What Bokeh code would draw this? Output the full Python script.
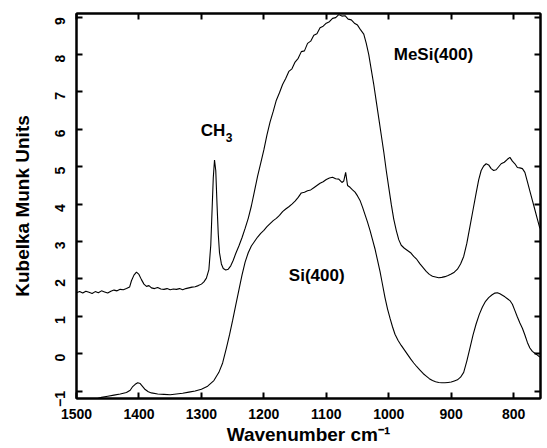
import math
from bokeh.plotting import figure
from bokeh.models import Range1d, FixedTicker, LinearAxis, Label
from bokeh.embed import file_html
from bokeh.resources import INLINE

# ---- data ----
mesi_wn = [1500, 1495, 1490, 1485, 1480, 1475, 1470, 1465, 1460, 1455, 1450, 1445, 1440, 1435, 1430,
           1425, 1420, 1415, 1412, 1408, 1404, 1400, 1396, 1392, 1388, 1384, 1380, 1375, 1370, 1365,
           1360, 1355, 1350, 1345, 1340, 1335, 1330, 1325, 1320, 1315, 1310, 1305, 1300, 1296, 1292,
           1288, 1285, 1283, 1281, 1279, 1277, 1275, 1273, 1271, 1268, 1265, 1261, 1257, 1253, 1249,
           1245, 1240, 1235, 1230, 1225, 1220, 1215, 1210, 1205, 1200, 1195, 1190, 1185, 1180, 1175,
           1170, 1165, 1160, 1155, 1150, 1145, 1140, 1135, 1130, 1125, 1120, 1115, 1110, 1105, 1100,
           1095, 1090, 1085, 1080, 1075, 1070, 1065, 1060, 1055, 1050, 1045, 1040, 1036, 1032, 1028,
           1024, 1020, 1016, 1012, 1008, 1004, 1000, 996, 992, 988, 984, 980, 975, 970, 965,
           960, 955, 950, 945, 940, 935, 930, 925, 920, 915, 910, 905, 900, 895, 890,
           885, 880, 875, 870, 865, 860, 856, 852, 848, 844, 840, 836, 832, 828, 824,
           820, 815, 810, 806, 802, 798, 794, 790, 786, 782, 778, 774, 770, 766, 762, 758]
mesi_km = [1.63, 1.66, 1.62, 1.67, 1.64, 1.61, 1.66, 1.63, 1.68, 1.65, 1.62, 1.67, 1.70, 1.68, 1.72,
           1.71, 1.74, 1.78, 1.95, 2.10, 2.18, 2.12, 1.98, 1.86, 1.80, 1.82, 1.76, 1.74, 1.77, 1.73,
           1.72, 1.74, 1.71, 1.73, 1.72, 1.74, 1.71, 1.74, 1.76, 1.78, 1.79, 1.82, 1.86, 1.92, 2.02,
           2.25, 2.90, 3.80, 4.70, 5.18, 4.90, 4.00, 3.20, 2.70, 2.40, 2.28, 2.24, 2.26, 2.35, 2.50,
           2.68, 2.88, 3.10, 3.35, 3.62, 3.95, 4.35, 4.75, 5.10, 5.45, 5.85, 6.20, 6.48, 6.78, 6.98,
           7.20, 7.36, 7.55, 7.62, 7.80, 7.90, 8.08, 8.10, 8.30, 8.36, 8.52, 8.56, 8.72, 8.76, 8.84,
           8.88, 8.97, 8.99, 9.07, 9.03, 9.04, 8.95, 8.93, 8.84, 8.79, 8.66, 8.55, 8.30, 8.00, 7.60,
           7.20, 6.75, 6.30, 5.85, 5.40, 4.90, 4.45, 4.00, 3.60, 3.30, 3.05, 2.90, 2.82, 2.76, 2.70,
           2.60, 2.52, 2.40, 2.30, 2.20, 2.12, 2.07, 2.05, 2.03, 2.04, 2.06, 2.09, 2.13, 2.18, 2.26,
           2.40, 2.60, 2.95, 3.40, 3.85, 4.30, 4.65, 4.90, 5.02, 5.08, 5.05, 4.95, 4.90, 4.92, 5.00,
           5.08, 5.12, 5.20, 5.25, 5.15, 5.08, 4.98, 4.97, 4.95, 4.85, 4.60, 4.35, 4.10, 3.85, 3.60, 3.35]

si_wn = [1470, 1460, 1450, 1440, 1430, 1420, 1414, 1410, 1406, 1402, 1398, 1394, 1390, 1385, 1380,
         1370, 1360, 1350, 1340, 1330, 1320, 1310, 1300, 1290, 1280, 1272, 1266, 1260, 1255, 1250,
         1245, 1240, 1235, 1230, 1225, 1220, 1215, 1210, 1205, 1200, 1195, 1190, 1185, 1180, 1175,
         1170, 1165, 1160, 1155, 1150, 1145, 1140, 1135, 1130, 1125, 1120, 1115, 1110, 1105, 1100,
         1095, 1090, 1085, 1080, 1075, 1072, 1069, 1066, 1062, 1058, 1054, 1050, 1046, 1042, 1038,
         1034, 1030, 1026, 1022, 1018, 1014, 1010, 1006, 1002, 998, 994, 990, 985, 980, 975,
         970, 965, 960, 955, 950, 945, 940, 935, 930, 925, 920, 915, 910, 905, 900,
         895, 890, 885, 880, 875, 870, 865, 860, 855, 850, 845, 840, 835, 830, 826,
         822, 818, 814, 810, 806, 802, 798, 794, 790, 786, 782, 778, 774, 770, 766, 762, 758]
si_km = [-1.22, -1.17, -1.14, -1.11, -1.08, -1.04, -0.98, -0.88, -0.82, -0.78, -0.80, -0.88, -0.96, -1.02, -1.05,
         -1.08, -1.09, -1.10, -1.08, -1.06, -1.03, -1.00, -0.95, -0.87, -0.72, -0.50, -0.25, 0.15, 0.50, 0.89,
         1.30, 1.70, 2.10, 2.45, 2.70, 2.88, 3.00, 3.12, 3.22, 3.30, 3.40, 3.48, 3.56, 3.62, 3.70,
         3.80, 3.87, 3.93, 4.00, 4.08, 4.18, 4.30, 4.32, 4.36, 4.38, 4.44, 4.50, 4.56, 4.60, 4.66,
         4.70, 4.72, 4.68, 4.67, 4.58, 4.62, 4.85, 4.50, 4.45, 4.38, 4.32, 4.22, 4.10, 3.92, 3.72,
         3.52, 3.30, 3.05, 2.80, 2.50, 2.20, 1.85, 1.50, 1.20, 0.95, 0.72, 0.52, 0.35, 0.22, 0.10,
         -0.02, -0.14, -0.25, -0.35, -0.44, -0.53, -0.60, -0.67, -0.72, -0.75, -0.77, -0.78, -0.78, -0.77, -0.76,
         -0.73, -0.70, -0.63, -0.50, -0.20, 0.15, 0.50, 0.80, 1.05, 1.25, 1.40, 1.50, 1.57, 1.62, 1.63,
         1.60, 1.56, 1.52, 1.47, 1.42, 1.32, 1.15, 0.98, 0.82, 0.68, 0.50, 0.30, 0.15, 0.06, 0.01, -0.04, -0.09]

x_ticks = [1500, 1400, 1300, 1200, 1100, 1000, 900, 800]
y_ticks = [-1, 0, 1, 2, 3, 4, 5, 6, 7, 8, 9]

FONT = "Liberation Sans"

p = figure(width=547, height=448, output_backend="svg", toolbar_location=None,
           x_range=Range1d(1500, 757), y_range=Range1d(-1.2, 9.1),
           min_border_left=76, min_border_right=7, min_border_top=13, min_border_bottom=50)

p.line(mesi_wn, mesi_km, line_color="black", line_width=1.1)
p.line(si_wn, si_km, line_color="black", line_width=1.1)

p.xgrid.visible = False
p.ygrid.visible = False
p.outline_line_color = "black"
p.outline_line_width = 2
p.background_fill_color = "white"
p.border_fill_color = "white"

def style(ax, show_labels):
    ax.major_tick_in = 6
    ax.major_tick_out = 0
    ax.minor_tick_line_color = None
    ax.major_tick_line_width = 2
    ax.major_tick_line_color = "black"
    ax.axis_line_color = "black"
    ax.axis_line_width = 2
    ax.major_label_text_font = FONT
    ax.major_label_text_font_style = "bold"
    ax.major_label_text_font_size = "14px" if show_labels else "0px"
    ax.major_label_text_color = "black"
    ax.axis_label_text_font = FONT
    ax.axis_label_text_font_style = "bold"
    ax.axis_label_text_font_size = "19px"
    ax.axis_label_text_color = "black"

xa = p.xaxis[0]
xa.ticker = FixedTicker(ticks=x_ticks)
xa.axis_label = "Wavenumber cm\u207b\u00b9"
style(xa, True)
xa.major_label_standoff = 10
xa.axis_label_standoff = 2

ya = p.yaxis[0]
ya.ticker = FixedTicker(ticks=y_ticks)
ya.axis_label = "Kubelka Munk Units"
style(ya, True)
ya.major_label_orientation = math.pi / 2
ya.major_label_standoff = 16
ya.axis_label_standoff = 15

top = LinearAxis(ticker=FixedTicker(ticks=x_ticks))
style(top, False)
top.major_label_standoff = 0
top.major_label_overrides = {t: "" for t in x_ticks}
p.add_layout(top, "above")

right = LinearAxis(ticker=FixedTicker(ticks=y_ticks))
style(right, False)
right.major_label_standoff = 0
right.major_label_overrides = {t: "" for t in y_ticks}
p.add_layout(right, "right")

def lab(x, y, t, size):
    p.add_layout(Label(x=x, y=y, text=t, text_font=FONT, text_font_style="bold",
                       text_font_size=size, text_color="black",
                       text_align="left", text_baseline="middle"))

lab(992, 7.99, "MeSi(400)", "17px")
lab(1160, 2.09, "Si(400)", "17px")
lab(1301, 5.96, "CH", "17px")
lab(1261, 5.77, "3", "12px")

open("out.html", "w").write(file_html(p, INLINE))
